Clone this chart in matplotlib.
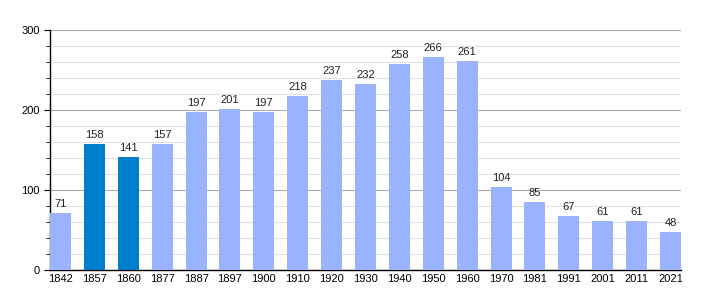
import matplotlib
matplotlib.use("Agg")
import matplotlib.pyplot as plt
from matplotlib.ticker import MultipleLocator

years = ["1842", "1857", "1860", "1877", "1887", "1897", "1900", "1910", "1920", "1930",
         "1940", "1950", "1960", "1970", "1981", "1991", "2001", "2011", "2021"]
population = [71, 158, 141, 157, 197, 201, 197, 218, 237, 232, 258, 266, 261, 104, 85, 67, 61, 61, 48]
highlight = ["1857", "1860"]

light = "#99b3ff"
dark = "#0080cc"

plt.rcParams['font.family'] = ['Liberation Sans', 'DejaVu Sans']
fig = plt.figure(figsize=(7.1, 3.0), dpi=100)
ax = fig.add_axes([50/710, 30/300, 631/710, 240/300])

colors = [dark if y in highlight else light for y in years]
x = list(range(len(years)))
w = 0.62
ax.bar(x, population, width=w, color=colors, zorder=3)
for xi, v in zip(x, population):
    ax.text(xi, v + 5, str(v), ha='center', va='bottom', fontsize=8, color='#222222', zorder=4)

ax.set_xlim(-w/2, len(years) - 1 + w/2)
ax.set_ylim(0, 300)
ax.set_xticks(x)
ax.set_xticklabels(years, fontsize=8)
ax.yaxis.set_major_locator(MultipleLocator(100))
ax.yaxis.set_minor_locator(MultipleLocator(20))
ax.tick_params(axis='y', which='major', labelsize=8, length=4, direction='out')
ax.tick_params(axis='y', which='minor', length=3, direction='out')
ax.tick_params(axis='x', length=0, pad=3)
ax.grid(axis='y', which='major', color='#aaaaaa', linewidth=0.8, zorder=0)
ax.grid(axis='y', which='minor', color='#e0e0e0', linewidth=0.8, zorder=0)
for s in ['top', 'right']:
    ax.spines[s].set_visible(False)
ax.spines['left'].set_linewidth(1)
ax.spines['bottom'].set_linewidth(1)

fig.savefig("out.png", dpi=100)
